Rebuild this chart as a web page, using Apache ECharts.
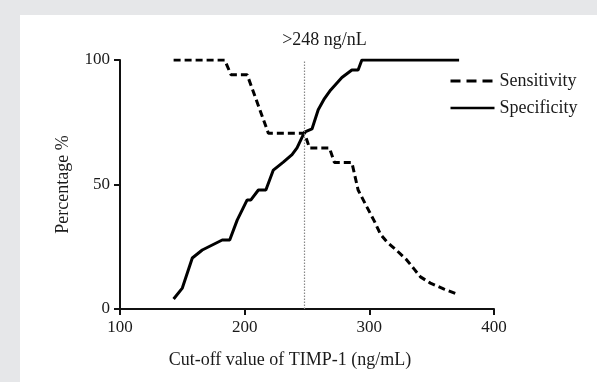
<!DOCTYPE html>
<html>
<head>
<meta charset="utf-8">
<script src="https://cdn.jsdelivr.net/npm/echarts@6/dist/echarts.min.js"></script>
<style>
html,body{margin:0;padding:0;background:#e6e7e9;width:597px;height:382px;overflow:hidden;}
#c{position:absolute;left:20px;top:15px;width:577px;height:367px;background:#ffffff;}
</style>
</head>
<body>
<div id="c"></div>
<script>
// Sensitivity curve: [cut-off (ng/mL), %]
var sensitivity = [[143,100],[184,100],[189,94.1],[202,94.1],[219,70.6],[248,70.6],[252,64.7],[268,64.7],[272,58.8],[286,58.8],[291,47.8],[298,41],[304,35.3],[309,30],[314,27],[322,23.5],[330,19.7],[336,16],[341,12.9],[349,10.4],[360,8],[371,5.9]];
// Specificity curve
var specificity = [[143,4],[150,8.4],[158,20.5],[166,23.7],[182,27.7],[188,27.7],[194,35.7],[202,43.8],[205,43.8],[211,47.8],[217,47.8],[223,55.8],[231,59],[238,62],[242,64.7],[248,71],[254,72.3],[259,80],[264,84.5],[269,88],[278,93],[286,96],[291,96],[294,100],[372,100]];
var cutoff = 248;
var cutoffLabel = '>248 ng/nL';
var xTicks = [100, 200, 300, 400];
var yTicks = [0, 50, 100];
var seriesNames = ['Sensitivity', 'Specificity'];

var font = '"Liberation Serif", "Times New Roman", serif';
var txt = '#1a1a1a';
var chart = echarts.init(document.getElementById('c'), null, {renderer: 'canvas'});
chart.setOption({
  animation: false,
  textStyle: {fontFamily: font, color: txt},
  grid: {left: 100, right: 103, top: 45, bottom: 73, containLabel: false},
  legend: {
    orient: 'vertical', left: 424, top: 52, itemWidth: 44, itemHeight: 14, itemGap: 9,
    data: [
      {name: seriesNames[0], lineStyle: {type: [10, 6], width: 3}},
      {name: seriesNames[1], lineStyle: {type: 'solid', width: 2.5}}
    ],
    itemStyle: {opacity: 0},
    textStyle: {fontFamily: font, fontSize: 18, color: txt, padding: [0,0,0,0]}
  },
  xAxis: {
    type: 'value', min: xTicks[0], max: xTicks[xTicks.length-1], interval: 100,
    name: 'Cut-off value of TIMP-1 (ng/mL)', nameLocation: 'middle', nameGap: 42,
    nameTextStyle: {fontFamily: font, fontSize: 18, color: txt, padding: [0, 34, 0, 0]},
    axisLine: {lineStyle: {color: '#111', width: 2}},
    axisTick: {show: true, inside: false, length: 6, lineStyle: {color: '#111', width: 2}},
    axisLabel: {fontFamily: font, fontSize: 17, color: txt, margin: 10},
    splitLine: {show: false}
  },
  yAxis: {
    type: 'value', min: yTicks[0], max: yTicks[yTicks.length-1], interval: 50,
    name: 'Percentage %', nameLocation: 'middle', nameGap: 48, nameRotate: 90,
    nameTextStyle: {fontFamily: font, fontSize: 18, color: txt},
    axisLine: {show: true, lineStyle: {color: '#111', width: 2}},
    axisTick: {show: true, inside: false, length: 6, lineStyle: {color: '#111', width: 2}},
    axisLabel: {fontFamily: font, fontSize: 17, color: txt, margin: 10},
    splitLine: {show: false}
  },
  series: [
    {
      name: seriesNames[0], type: 'line', data: sensitivity, symbol: 'none',
      lineStyle: {color: '#000', width: 3, type: [7, 4]},
      itemStyle: {color: '#000'},
      z: 3,
      markLine: {
        silent: true, symbol: ['none', 'none'],
        lineStyle: {color: '#888', width: 1.2, type: [1.5, 1.5]},
        label: {show: true, position: 'end', formatter: cutoffLabel, distance: 11,
          fontFamily: font, fontSize: 18, color: txt, padding: [0, 0, 0, 40]},
        data: [{xAxis: cutoff}]
      }
    },
    {
      name: seriesNames[1], type: 'line', data: specificity, symbol: 'none',
      lineStyle: {color: '#000', width: 3, type: 'solid'},
      itemStyle: {color: '#000'},
      z: 4
    }
  ]
});
</script>
</body>
</html>
